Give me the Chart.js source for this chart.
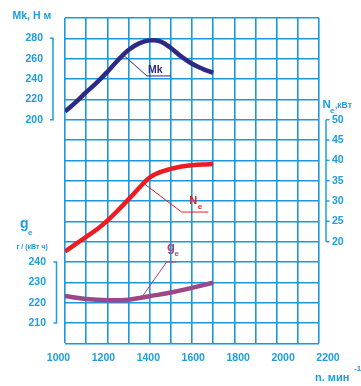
<!DOCTYPE html>
<html><head><meta charset="utf-8">
<script src="https://cdn.jsdelivr.net/npm/chart.js@4/dist/chart.umd.min.js"></script>
<style>html,body{margin:0;padding:0;background:#fff}#wrap{width:361px;height:386px;position:relative}canvas{display:block}</style>
</head><body><div id="wrap"><canvas id="c" width="361" height="386"></canvas></div>
<script>
// ---- data ----
const rpm = [1000,1050,1100,1150,1200,1250,1300,1350,1400,1450,1500,1550,1600,1650,1700];
const torqueMk = [208,217,227,236.5,247,258.5,268.5,275,278,277,270.5,262,255,250,246];
const powerNe = [17.6,19.4,21.2,23,25.2,27.7,30.4,33.2,35.8,37.1,37.9,38.5,38.8,39.0,39.1];
const rpmGe = [1000,1100,1200,1300,1400,1500,1600,1700];
const fuelGe = [223.3,221.8,221.2,221.5,223.2,225,227.3,229.8];
const rpmTicks = [1000,1200,1400,1600,1800,2000,2200];
const mkTicks = [200,220,240,260,280];
const neTicks = [20,25,30,35,40,45,50];
const geTicks = [210,220,230,240];
// leader lines of curve captions (data units)
const mkLeaderX = [1279,1387,1501], mkLeaderY = [263,243,243];
const neLeaderX = [1370,1551,1677], neLeaderY = [34.4,27.3,27.3];
const geLeaderX = [1367,1480,1527], geLeaderY = [223.3,240,240];

const BLUE = '#1b9ee2', GRID = '#1d97da';
const NAVY = '#2c2a86', RED = '#ec1c24', PURPLE = '#9b4788';
const FF = '"Liberation Sans", Arial, sans-serif';
const pts = (xs, ys) => xs.map((x, i) => ({x, y: ys[i]}));

const textPlugin = {
  id: 'texts',
  afterDraw(chart) {
    const {ctx, chartArea: ca, scales: s} = chart;
    ctx.save();
    ctx.fillStyle = BLUE; ctx.strokeStyle = BLUE; ctx.lineWidth = 1.5;
    ctx.font = 'bold 10.5px ' + FF; ctx.textBaseline = 'middle';
    // Mk axis
    ctx.textAlign = 'right';
    mkTicks.forEach(v => ctx.fillText(String(v), ca.left - 22, s.y.getPixelForValue(v)));
    let bx = ca.left - 12, t = s.y.getPixelForValue(280), b = s.y.getPixelForValue(200);
    ctx.beginPath(); ctx.moveTo(bx - 3, t); ctx.lineTo(bx, t); ctx.lineTo(bx, b); ctx.lineTo(bx - 3, b); ctx.stroke();
    // ge axis
    geTicks.forEach(v => ctx.fillText(String(v), ca.left - 19, s.yGe.getPixelForValue(v)));
    bx = ca.left - 8.5; t = s.yGe.getPixelForValue(240); b = s.yGe.getPixelForValue(210);
    ctx.beginPath(); ctx.moveTo(bx - 3, t); ctx.lineTo(bx, t); ctx.lineTo(bx, b); ctx.lineTo(bx - 3, b); ctx.stroke();
    // Ne axis
    ctx.textAlign = 'left';
    bx = ca.right + 7;
    t = s.yNe.getPixelForValue(50); b = s.yNe.getPixelForValue(20);
    ctx.beginPath(); ctx.moveTo(bx, t); ctx.lineTo(bx, b); ctx.stroke();
    neTicks.forEach(v => {
      const py = s.yNe.getPixelForValue(v);
      ctx.beginPath(); ctx.moveTo(bx, py); ctx.lineTo(bx + 3.5, py); ctx.stroke();
      ctx.fillText(String(v), bx + 6, py);
    });
    // axis titles
    ctx.font = 'bold 10.5px ' + FF;
    ctx.fillText('Mk, Н м', 12.5, 16);
    ctx.font = 'bold 11.5px ' + FF; ctx.fillText('N', ca.right + 3.5, 105);
    ctx.font = 'bold 8px ' + FF; ctx.fillText('e', ca.right + 11, 111);
    ctx.font = 'bold 8.5px ' + FF; ctx.fillText(',кВт', ca.right + 16, 105.5);
    ctx.font = 'bold 14px ' + FF; ctx.fillText('g', 20, 224);
    ctx.font = 'bold 8px ' + FF; ctx.fillText('e', 28, 233);
    ctx.font = 'bold 7px ' + FF; ctx.fillText('г / (кВт ч)', 16.5, 247);
    ctx.font = 'bold 11px ' + FF; ctx.fillText('n. мин', 315, 378);
    ctx.font = 'bold 8px ' + FF; ctx.fillText('-1', 354, 369);
    // curve captions (anchored in data units)
    ctx.fillStyle = NAVY; ctx.font = 'bold 10.5px ' + FF;
    ctx.fillText('Mk', s.x.getPixelForValue(1392), s.y.getPixelForValue(249));
    ctx.fillStyle = RED; ctx.font = 'bold 11px ' + FF;
    let px = s.x.getPixelForValue(1587), py = s.yNe.getPixelForValue(30);
    ctx.fillText('N', px, py);
    ctx.font = 'bold 8px ' + FF; ctx.fillText('e', px + 8.5, py + 6);
    ctx.fillStyle = PURPLE; ctx.font = 'bold 13px ' + FF;
    px = s.x.getPixelForValue(1482); py = s.yGe.getPixelForValue(247);
    ctx.fillText('g', px, py);
    ctx.font = 'bold 8px ' + FF; ctx.fillText('e', px + 7.5, py + 6);
    ctx.restore();
  }
};

const thick = (data, axis, color) => ({
  data, yAxisID: axis, borderColor: color, borderWidth: 4.5, pointRadius: 0,
  tension: 0.4, fill: false
});
const thin = (data, axis, color) => ({
  data, yAxisID: axis, borderColor: color, borderWidth: 1, pointRadius: 0, tension: 0, fill: false
});

new Chart(document.getElementById('c'), {
  type: 'line',
  data: { datasets: [
    thick(pts(rpm, torqueMk), 'y', NAVY),
    thick(pts(rpm, powerNe), 'yNe', RED),
    thick(pts(rpmGe, fuelGe), 'yGe', PURPLE),
    thin(pts(mkLeaderX, mkLeaderY), 'y', NAVY),
    thin(pts(neLeaderX, neLeaderY), 'yNe', RED),
    thin(pts(geLeaderX, geLeaderY), 'yGe', PURPLE)
  ]},
  options: {
    responsive: false, animation: false, devicePixelRatio: 1,
    layout: { padding: { left: 65, right: 42, top: 18, bottom: 14 } },
    plugins: { legend: { display: false }, tooltip: { enabled: false } },
    scales: {
      x: { type: 'linear', min: 1000, max: 2200,
        ticks: { display: false, stepSize: 100 },
        grid: { color: GRID, lineWidth: 1.6, drawTicks: false }, border: { display: false } },
      xl: { type: 'linear', position: 'bottom', min: 1028.9, max: 2159.9,
        afterBuildTicks: a => { a.ticks = rpmTicks.map(v => ({value: v})); },
        ticks: { autoSkip: false, maxRotation: 0, padding: 8, color: BLUE,
          callback: v => String(v),
          font: { family: FF, size: 10.5, weight: 'bold' } },
        grid: { display: false, drawTicks: false }, border: { display: false } },
      y: { type: 'linear', min: -20, max: 300,
        ticks: { display: false, stepSize: 20 },
        grid: { color: GRID, lineWidth: 1.6, drawTicks: false }, border: { display: false } },
      yNe: { type: 'linear', display: false, min: -5, max: 75 },
      yGe: { type: 'linear', display: false, min: 200, max: 360 }
    }
  },
  plugins: [textPlugin]
});
</script></body></html>
